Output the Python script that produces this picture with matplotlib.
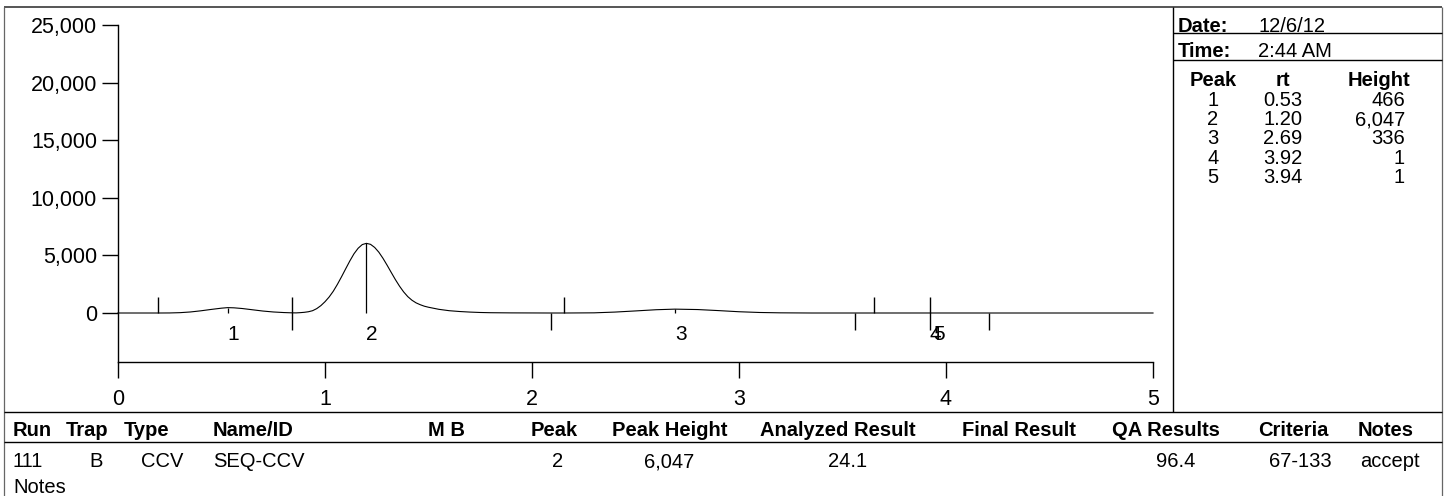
import matplotlib
matplotlib.use("Agg")
import matplotlib.pyplot as plt
from matplotlib.lines import Line2D
from matplotlib.ticker import FuncFormatter

plt.rcParams['font.family'] = ['Liberation Sans', 'DejaVu Sans']

# ---------------- data ----------------
trace_x = [0.0, 0.20, 0.25, 0.30, 0.35, 0.40, 0.45, 0.50, 0.53, 0.56, 0.60, 0.65, 0.70, 0.75, 0.80, 0.84,
           0.86, 0.88, 0.90, 0.92, 0.94, 0.96, 0.98, 1.00, 1.02, 1.04, 1.06, 1.08, 1.10, 1.12, 1.14, 1.16, 1.18,
           1.20, 1.22, 1.24, 1.26, 1.28, 1.30, 1.32, 1.34, 1.36, 1.38, 1.40, 1.42, 1.44, 1.46, 1.48, 1.50,
           1.55, 1.60, 1.65, 1.70, 1.75, 1.80, 1.90, 2.00, 2.09,
           2.16, 2.30, 2.40, 2.50, 2.60, 2.69, 2.80, 2.90, 3.00, 3.10, 3.20, 3.35,
           3.65, 3.92, 3.94, 4.21, 5.00]
trace_y = [0, 0, 5, 30, 90, 190, 310, 420, 466, 450, 390, 280, 170, 90, 40, 15,
           10, 30, 60, 110, 200, 380, 640, 980, 1390, 1890, 2490, 3150, 3840, 4520, 5140, 5620, 5940,
           6047, 5960, 5690, 5280, 4750, 4150, 3520, 2900, 2330, 1830, 1420, 1110, 880, 720, 590, 500,
           320, 200, 130, 80, 45, 25, 10, 5, 0,
           0, 15, 80, 180, 285, 336, 300, 210, 110, 45, 15, 0,
           0, 1, 1, 0, 0]

peak_ids = [1, 2, 3, 4, 5]
peak_rt = [0.53, 1.20, 2.69, 3.92, 3.94]
peak_height = [466, 6047, 336, 1, 1]
rt_labels = ['0.53', '1.20', '2.69', '3.92', '3.94']
height_labels = ['466', '6,047', '336', '1', '1']

start_marks = [0.195, 2.157, 3.65]      # peak start (tick up)
through_marks = [0.84, 3.925]           # shared boundary (tick up and down)
end_marks = [2.09, 3.56, 4.21]          # peak end (tick down)

x_ticks = [0, 1, 2, 3, 4, 5]
y_ticks = [0, 5000, 10000, 15000, 20000, 25000]

report_date = '12/6/12'
report_time = '2:44 AM'

table_headers = ['Run', 'Trap', 'Type', 'Name/ID', 'M B', 'Peak', 'Peak Height',
                 'Analyzed Result', 'Final Result', 'QA Results', 'Criteria', 'Notes']
table_row = ['111', 'B', 'CCV', 'SEQ-CCV', '', '2', '6,047', '24.1', '', '96.4', '67-133', 'accept']
notes_label = 'Notes'

# ---------------- layout ----------------
W, H = 1447, 496
fig = plt.figure(figsize=(W / 100, H / 100), dpi=100)
TS = 14.5   # table text size


def fx(px):
    return px / W


def fy(py):
    return 1 - py / H


def hline(y, x0, x1, color='black', lw=1.0):
    fig.add_artist(Line2D([fx(x0), fx(x1)], [fy(y), fy(y)], transform=fig.transFigure,
                          color=color, lw=lw, solid_capstyle='butt'))


def vline(x, y0, y1, color='black', lw=1.0):
    fig.add_artist(Line2D([fx(x), fx(x)], [fy(y0), fy(y1)], transform=fig.transFigure,
                          color=color, lw=lw, solid_capstyle='butt'))


def ftext(x, y, s, ha='left', size=TS, weight='normal'):
    fig.text(fx(x), fy(y), s, ha=ha, va='baseline', fontsize=size, fontweight=weight, color='black')


# outer frame
hline(7, 4, 1442, color='#555555', lw=1.4)
vline(4, 7, 496, color='#666666', lw=0.9)
vline(1442, 7, 496, color='#666666', lw=0.9)
# divider between chart and info box
vline(1173, 7, 412, lw=1.0)
# table lines
hline(412, 4, 1442, lw=1.0)
hline(442, 4, 1442, lw=1.0)
# date / time lines
hline(33, 1173, 1442, lw=1.0)
hline(60, 1173, 1442, lw=1.0)

# ---------------- chromatogram ----------------
ax_top, ax_bot, ax_left, ax_right = 25, 362, 118, 1153
ax = fig.add_axes([fx(ax_left), fy(ax_bot), (ax_right - ax_left) / W, (ax_bot - ax_top) / H])
ax.patch.set_visible(False)
y_bottom = -4253
ax.set_xlim(0, 5)
ax.set_ylim(y_bottom, 25000)
ax.plot(trace_x, trace_y, color='black', lw=0.8, clip_on=False)

data_per_px = (25000 - y_bottom) / (ax_bot - ax_top)
up = 16 * data_per_px
dn = 17 * data_per_px
ax.vlines(start_marks, 0, up, color='black', lw=1.0)
ax.vlines(through_marks, -dn, up, color='black', lw=1.0)
ax.vlines(end_marks, -dn, 0, color='black', lw=1.0)
ax.vlines(peak_rt, 0, peak_height, color='black', lw=0.9)

for pid, rt in zip(peak_ids, peak_rt):
    ax.annotate(str(pid), xy=(rt, 0), xytext=(0, -27 * 0.72), textcoords='offset points',
                ha='left', va='baseline', fontsize=15)

for s in ['top', 'right']:
    ax.spines[s].set_visible(False)
for s in ['left', 'bottom']:
    ax.spines[s].set_linewidth(1.0)
ax.set_xticks(x_ticks)
ax.set_yticks(y_ticks)
ax.yaxis.set_major_formatter(FuncFormatter(lambda v, p: f'{int(v):,}'))
ax.tick_params(axis='both', direction='out', length=11.5, width=1.0, labelsize=15.5)
ax.tick_params(axis='y', pad=3.6)
ax.tick_params(axis='x', pad=8.0)
for t in ax.get_yticklabels():
    t.set_verticalalignment('center_baseline')

# ---------------- info box ----------------
ftext(1178, 31.5, 'Date:', weight='bold')
ftext(1258, 31.5, report_date)
ftext(1178, 57, 'Time:', weight='bold')
ftext(1258, 57, report_time)

ftext(1213, 86, 'Peak', ha='center', weight='bold')
ftext(1283, 86, 'rt', ha='center', weight='bold')
ftext(1410, 86, 'Height', ha='right', weight='bold')
for i, (pid, rtl, hl) in enumerate(zip(peak_ids, rt_labels, height_labels)):
    yb = 106 + i * 19.25
    ftext(1213, yb, str(pid), ha='center')
    ftext(1283, yb, rtl, ha='center')
    ftext(1405, yb, hl, ha='right')

# ---------------- results table ----------------
header_pos = [(13, 'left'), (87.5, 'center'), (147, 'center'), (213, 'left'), (446, 'center'),
              (554, 'center'), (670, 'center'), (837.5, 'center'), (1018.5, 'center'),
              (1166, 'center'), (1293.5, 'center'), (1358, 'left')]
row_pos = [(13, 'left'), (96, 'center'), (162, 'center'), (213, 'left'), (446, 'center'),
           (557.5, 'center'), (669, 'center'), (847.5, 'center'), (1018.5, 'center'),
           (1195, 'right'), (1332, 'right'), (1360, 'left')]
for label, (x, ha) in zip(table_headers, header_pos):
    ftext(x, 435.5, label, ha=ha, weight='bold')
for val, (x, ha) in zip(table_row, row_pos):
    if val:
        ftext(x, 467, val, ha=ha)
ftext(13, 493, notes_label)

fig.savefig('out.png', dpi=100)
